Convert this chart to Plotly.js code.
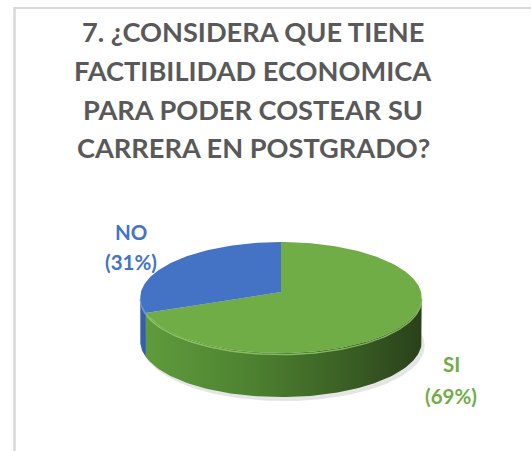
<!DOCTYPE html>
<html>
<head>
<meta charset="utf-8">
<script src="https://cdn.plot.ly/plotly-3.0.1.min.js"></script>
<style>html,body{margin:0;padding:0;background:#fff;}#chart{width:531px;height:451px;}</style>
</head>
<body>
<div id="chart"></div>
<script>
// ---- data ----
const labels = ['SI', 'NO'];
const values = [69, 31];
const titleLines = ['7. ¿CONSIDERA QUE TIENE', 'FACTIBILIDAD ECONOMICA', 'PARA PODER COSTEAR SU', 'CARRERA EN POSTGRADO?'];

// ---- style ----
const topColors = ['#70AD47', '#4472C4'];
const sideScales = [
  [[0, '#5f9b3c'], [0.35, '#4f8431'], [0.65, '#3f6727'], [1, '#2a411b']],
  [[0, '#3b64ae'], [1, '#345a9c']]
];
const labelColors = ['#70AD47', '#4472C4'];
// apex position, base radii and perspective factor
const geo = {cx: 281, cy: 292, rx: 140, ry: 55, k: 0.1, depth: 44};
const labelAnchors = [{x: 451, y1: 364, y2: 396}, {x: 131, y1: 232, y2: 262}];
const titleY = [31, 70, 109, 147];
const titleX = 253;
const titleSize = 27.2;

const rad = d => d * Math.PI / 180;
function pt(deg, dy) {
  const c = Math.cos(rad(deg)), s = Math.sin(rad(deg));
  const w = 1 + geo.k * s;
  return [geo.cx + geo.rx * c / w, geo.cy - geo.ry * s / w + (dy || 0)];
}
function arc(a0, a1, dy) {
  const n = Math.max(2, Math.ceil(Math.abs(a1 - a0) / 1.5));
  const xs = [], ys = [];
  for (let i = 0; i <= n; i++) {
    const p = pt(a0 + (a1 - a0) * i / n, dy);
    xs.push(p[0]); ys.push(p[1]);
  }
  return [xs, ys];
}

const total = values.reduce((a, b) => a + b, 0);
const traces = [];

// shadow
{
  const [xs, ys] = arc(0, 360, geo.depth + 4);
  traces.push({type: 'scatter', mode: 'lines', x: xs.map(v => v + 3), y: ys, fill: 'toself',
    fillcolor: 'rgba(0,0,0,0.10)', line: {width: 0, color: 'rgba(0,0,0,0)'}, hoverinfo: 'skip', showlegend: false});
}

let cum = 0;
const slices = values.map((v, i) => {
  const a0 = 90 - cum / total * 360;
  const a1 = 90 - (cum + v) / total * 360;
  cum += v;
  return {a0, a1, mid: (a0 + a1) / 2};
});

// visible side (front) range between silhouette tangents
const tang = Math.asin(geo.k) * 180 / Math.PI;
slices.forEach((s, i) => {
  const lo = Math.min(s.a0, s.a1), hi = Math.max(s.a0, s.a1);
  for (let k = -2; k <= 1; k++) {
    const fl = -180 + tang + 360 * k, fh = -tang + 360 * k;
    const a = Math.max(lo, fl), b = Math.min(hi, fh);
    if (b - a > 0.01) {
      const [tx, ty] = arc(a, b, 0);
      const [bx, by] = arc(b, a, geo.depth);
      traces.push({type: 'scatter', mode: 'lines', x: tx.concat(bx), y: ty.concat(by), fill: 'toself',
        fillgradient: {type: 'horizontal', colorscale: sideScales[i]},
        line: {width: 0, color: 'rgba(0,0,0,0)'}, hoverinfo: 'skip', showlegend: false});
      traces.push({type: 'scatter', mode: 'lines', x: tx, y: ty.map(y => y + 1.5),
        line: {width: 1.5, color: i === 0 ? 'rgba(150,205,110,0.8)' : 'rgba(120,160,230,0.8)'},
        hoverinfo: 'skip', showlegend: false});
    }
  }
});

// top faces
slices.forEach((s, i) => {
  const [xs, ys] = arc(s.a0, s.a1, 0);
  traces.push({type: 'scatter', mode: 'lines', name: labels[i],
    x: [geo.cx].concat(xs, [geo.cx]), y: [geo.cy].concat(ys, [geo.cy]), fill: 'toself',
    fillcolor: topColors[i], line: {width: 0, color: topColors[i]},
    hoverinfo: 'text', text: labels[i] + ': ' + values[i] + '%', showlegend: false});
});

const annotations = [];
titleLines.forEach((t, i) => annotations.push({
  text: t, x: titleX, y: titleY[i], xref: 'x', yref: 'y', showarrow: false,
  xanchor: 'center', yanchor: 'middle',
  font: {family: 'Lato, "Open Sans", sans-serif', size: titleSize, color: '#595959', weight: 'bold'}
}));
labels.forEach((l, i) => {
  const pct = Math.round(values[i] / total * 100);
  const f = {family: 'Lato, "Open Sans", sans-serif', size: 20.5, color: labelColors[i], weight: 'bold'};
  annotations.push({text: l, x: labelAnchors[i].x, y: labelAnchors[i].y1, xref: 'x', yref: 'y',
    showarrow: false, xanchor: 'center', yanchor: 'middle', font: f});
  annotations.push({text: '(' + pct + '%)', x: labelAnchors[i].x, y: labelAnchors[i].y2, xref: 'x', yref: 'y',
    showarrow: false, xanchor: 'center', yanchor: 'middle', font: f});
});

const layout = {
  width: 531, height: 451,
  margin: {l: 0, r: 0, t: 0, b: 0},
  paper_bgcolor: '#ffffff', plot_bgcolor: '#ffffff',
  xaxis: {range: [0, 531], visible: false, fixedrange: true},
  yaxis: {range: [451, 0], visible: false, fixedrange: true},
  showlegend: false,
  annotations: annotations,
  shapes: [
    {type: 'line', xref: 'x', yref: 'y', x0: 14.5, y0: 8, x1: 531, y1: 8, line: {color: '#d9d9d9', width: 2}},
    {type: 'line', xref: 'x', yref: 'y', x0: 14.5, y0: 7, x1: 14.5, y1: 451, line: {color: '#d9d9d9', width: 2.5}}
  ]
};

Plotly.newPlot('chart', traces, layout, {displayModeBar: false, staticPlot: true});
</script>
</body>
</html>
